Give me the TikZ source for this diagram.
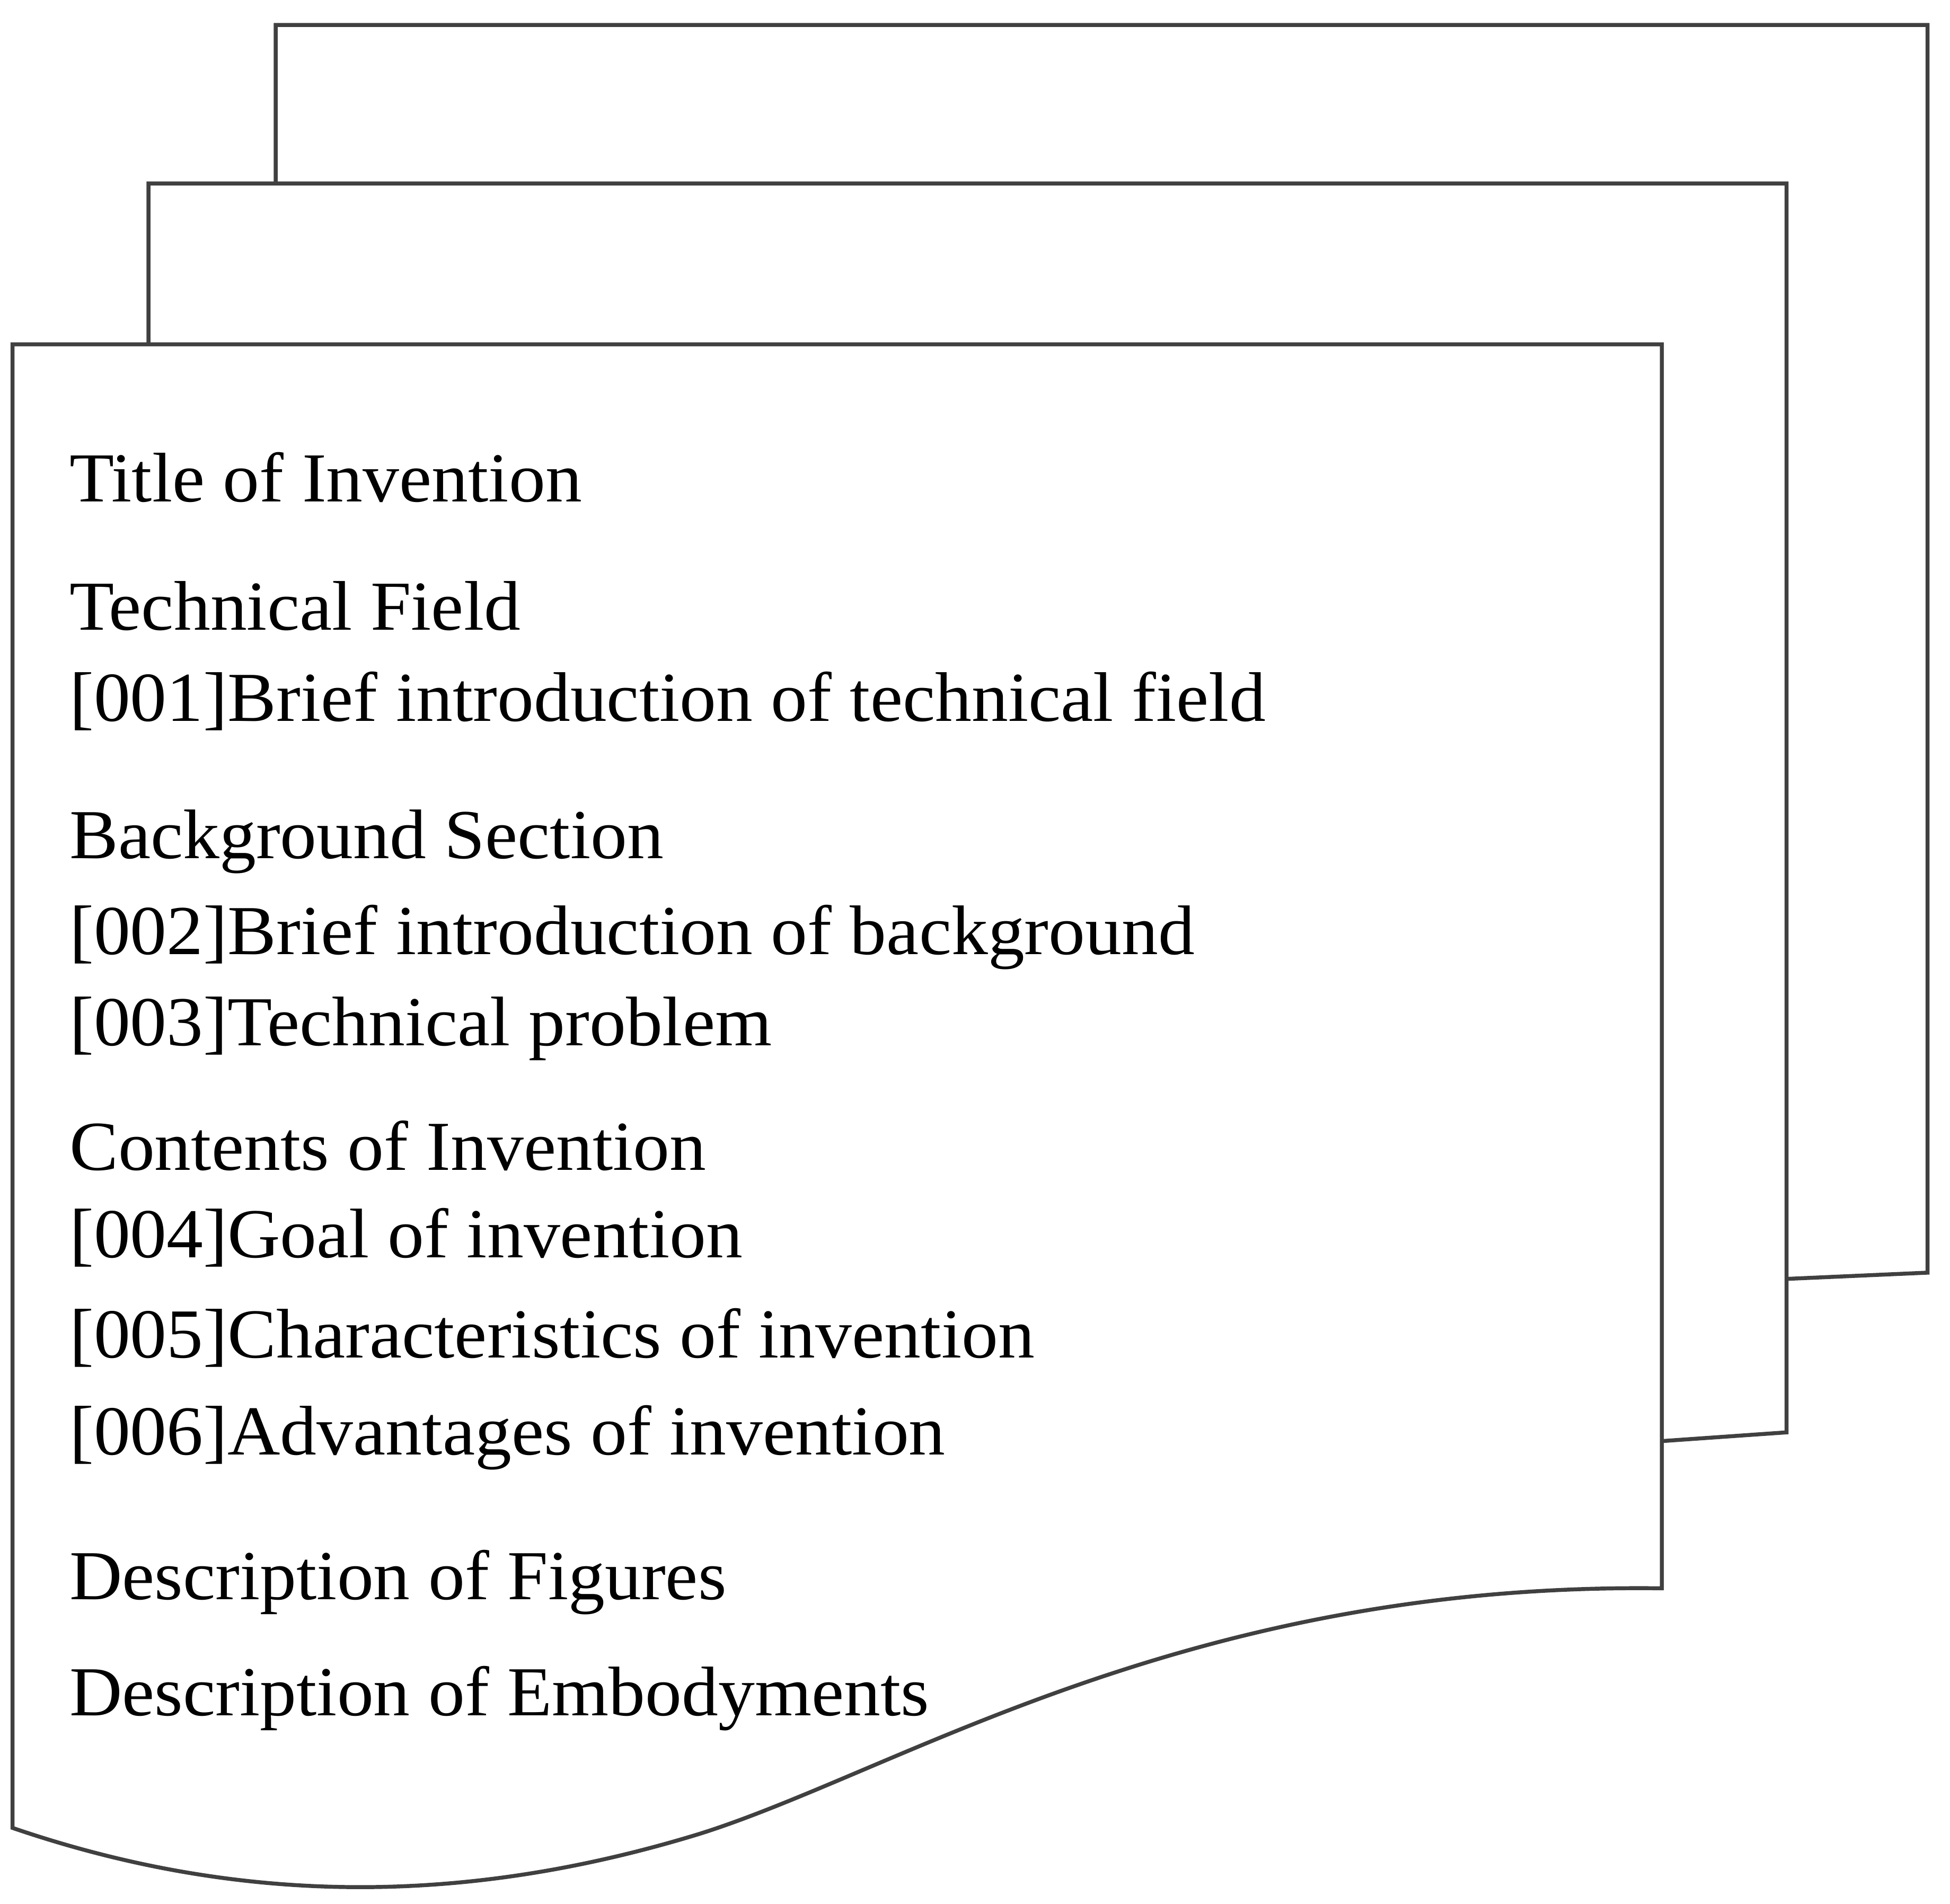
\documentclass[tikz,border=0pt]{standalone}
\usepackage{fontspec}
\setmainfont{Liberation Serif}
\begin{document}
\begin{tikzpicture}[x=0.01cm,y=-0.01cm,
  pg/.style={draw=black!75,line width=0.9pt,fill=white},
  txt/.style={anchor=base west,inner sep=0pt,font=\fontsize{16}{18}\selectfont,xscale=1.04}]
\useasboundingbox (0,0) rectangle (1563,1526);
% back page
\draw[pg] (221,147) -- (221,20) -- (1545,20) -- (1545,1020) -- (1432,1025);
% middle page
\draw[pg] (119,276) -- (119,147) -- (1432,147) -- (1432,1148) -- (1332,1155);
% front page
\draw[pg] (10,276) -- (1332,276) -- (1332,1273)
  .. controls (950,1268) and (720,1420) .. (560,1470)
  .. controls (380,1525) and (200,1530) .. (10,1465) -- cycle;
\node[txt] (t1) at (55,402) {Title of Invention};
\node[txt] (t2) at (55,505) {Technical Field};
\node[txt] (t3) at (55,578) {[001]Brief introduction of technical field};
\node[txt] (t4) at (55,688) {Background Section};
\node[txt] (t5) at (55,765) {[002]Brief introduction of background};
\node[txt] (t6) at (55,838) {[003]Technical problem};
\node[txt] (t7) at (55,938) {Contents of Invention};
\node[txt] (t8) at (55,1008) {[004]Goal of invention};
\node[txt] (t9) at (55,1088) {[005]Characteristics of invention};
\node[txt] (t10) at (55,1166) {[006]Advantages of invention};
\node[txt] (t11) at (55,1282) {Description of Figures};
\node[txt] (t12) at (55,1375) {Description of Embodyments};
\end{tikzpicture}
\end{document}
